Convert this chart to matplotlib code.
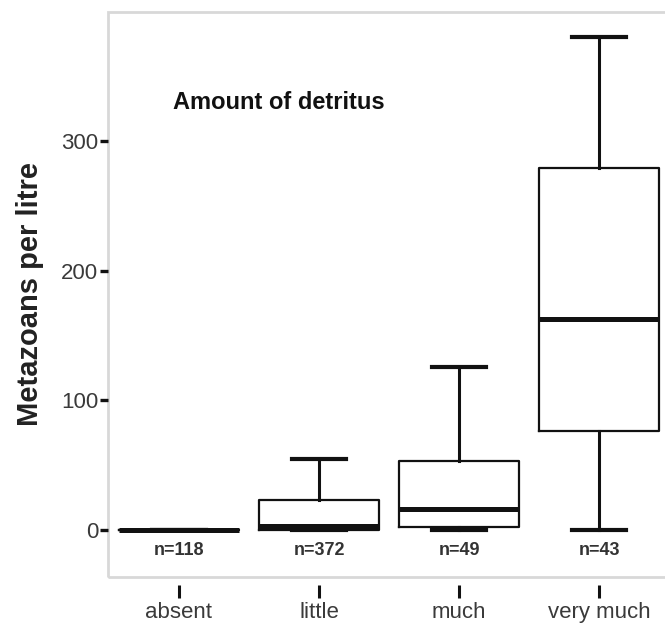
import matplotlib.pyplot as plt
import matplotlib.patches as patches

plt.rcParams['font.family'] = ['Liberation Sans', 'DejaVu Sans']

categories = ['absent', 'little', 'much', 'very much']
counts = [118, 372, 49, 43]
whislo = [0, 0, 0, 0]
q1 = [0, 0, 2, 76]
med = [0, 3, 16, 163]
q3 = [0, 23, 53, 279]
whishi = [0, 55, 126, 380]

stats = []
for i in range(len(categories)):
    stats.append({'label': categories[i], 'whislo': whislo[i], 'q1': q1[i],
                  'med': med[i], 'q3': q3[i], 'whishi': whishi[i], 'fliers': []})

fig = plt.figure(figsize=(6.65, 6.26), dpi=100)
ax = fig.add_axes([0.1624, 0.0783, 0.8406, 0.9027])

ax.bxp(stats, positions=range(4), widths=0.857, showfliers=False,
       boxprops=dict(color='#111111', linewidth=1.6),
       whiskerprops=dict(color='#111111', linewidth=2.2),
       capprops=dict(color='#111111', linewidth=3.0),
       medianprops=dict(color='#111111', linewidth=3.6, solid_capstyle='butt'),
       capwidths=0.386)

ax.set_xlim(-0.507, 3.485)
ax.set_ylim(-36.2, 399.5)

# light grey frame drawn by hand so the x ticks can float below it
for s in ax.spines.values():
    s.set_visible(False)
ax.spines['bottom'].set_position(('outward', 6))
frame = patches.Rectangle((0, 0), 1, 1, transform=ax.transAxes, fill=False,
                          edgecolor='#d8d8d8', linewidth=2, clip_on=False)
ax.add_patch(frame)

ax.set_yticks([0, 100, 200, 300])
ax.set_xticks(range(4))
ax.set_xticklabels(categories)
ax.tick_params(axis='y', length=6, width=2.4, color='#111111', pad=1,
               labelsize=16, labelcolor='#3a3a3a')
ax.tick_params(axis='x', length=9, width=2.2, color='#111111', pad=3,
               labelsize=16, labelcolor='#3a3a3a')

for i, n in enumerate(counts):
    ax.text(i, -15.5, 'n=%d' % n, ha='center', va='center', fontsize=13,
            fontweight='bold', color='#333333')

ax.text(0.117, 0.84, 'Amount of detritus', transform=ax.transAxes,
        fontsize=17, fontweight='bold', color='#111111', va='center')
ax.set_ylabel('Metazoans per litre', fontsize=21, fontweight='bold',
              color='#222222', labelpad=12)

fig.savefig('out.png', dpi=100)
